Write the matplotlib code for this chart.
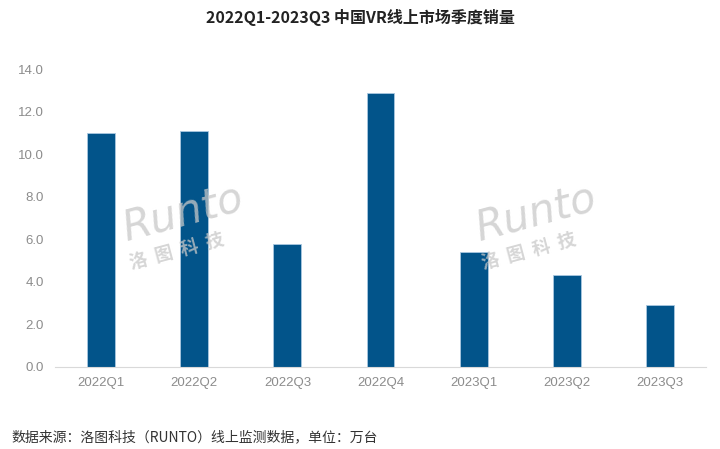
import matplotlib
matplotlib.use('Agg')
import matplotlib.pyplot as plt
from matplotlib.ticker import FormatStrFormatter

plt.rcParams['font.family'] = ['Noto Sans CJK SC', 'DejaVu Sans']

quarters = ['2022Q1', '2022Q2', '2022Q3', '2022Q4', '2023Q1', '2023Q2', '2023Q3']
sales = [11.0, 11.1, 5.8, 12.9, 5.4, 4.3, 2.9]

title = '2022Q1-2023Q3 中国VR线上市场季度销量'
source = '数据来源：洛图科技（RUNTO）线上监测数据，单位：万台'

fig = plt.figure(figsize=(7.2, 4.49), dpi=100)
ax = fig.add_axes([0.076, 0.183, 0.905, 0.663])

x = range(len(quarters))
ax.bar(x, sales, width=0.3, color='#02548A', edgecolor='#a9c8e0', linewidth=0.6, zorder=2)

ax.set_xlim(-0.5, len(quarters) - 0.5)
ax.set_ylim(0, 14)
ax.set_yticks([0, 2, 4, 6, 8, 10, 12, 14])
ax.yaxis.set_major_formatter(FormatStrFormatter('%.1f'))
ax.set_xticks(list(x))
ax.set_xticklabels(quarters)
ax.tick_params(axis='both', length=0, colors='#8c8c8c', labelsize=9.5)
ax.tick_params(axis='x', pad=7)
ax.tick_params(axis='y', pad=8)
for lbl in ax.get_xticklabels() + ax.get_yticklabels():
    lbl.set_family('Liberation Sans')

for side in ['top', 'right', 'left']:
    ax.spines[side].set_visible(False)
ax.spines['bottom'].set_color('#d9d9d9')
ax.spines['bottom'].set_linewidth(0.8)

# watermarks
for wx, wy in [(0.255, 0.525), (0.745, 0.525)]:
    fig.text(wx, wy, 'Runto', fontsize=30, color='#c8c8c8', alpha=0.75, style='italic',
             rotation=15, ha='center', va='center', family='DejaVu Sans', zorder=5)
    fig.text(wx - 0.01, wy - 0.085, '洛  图  科  技', fontsize=13, fontweight='bold',
             color='#c8c8c8', alpha=0.75, rotation=15, ha='center', va='center', zorder=5)

fig.text(0.5, 0.962, title, ha='center', va='center', fontsize=11.5,
         fontweight='bold', color='#222222')
fig.text(0.016, 0.027, source, ha='left', va='center', fontsize=10, color='#333333')

plt.savefig('out.png', dpi=100)
plt.close(fig)
